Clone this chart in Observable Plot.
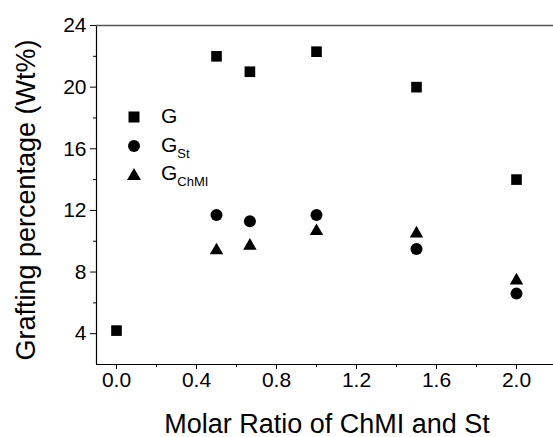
<!DOCTYPE html>
<html>
<head>
<meta charset="utf-8">
<script src="https://cdn.jsdelivr.net/npm/d3@7"></script>
<script src="https://cdn.jsdelivr.net/npm/@observablehq/plot@0.6"></script>
<style>
  body { margin: 0; background: #fff; font-family: "Liberation Sans", Arial, sans-serif; }
  #wrap { position: relative; width: 553px; height: 437px; }
  #legend { position: absolute; left: 126px; top: 103px; font-family: "Liberation Sans", Arial, sans-serif; }
  #legend .row { position: relative; height: 28.5px; display: flex; align-items: center; }
  #legend svg { width: 16px; height: 16px; }
  #legend .lab { position: absolute; left: 35px; font-size: 21px; top: 1px; }
  #legend sub { font-size: 13px; vertical-align: -6px; }
</style>
</head>
<body>
<div id="wrap"><div id="chart"></div>
<div id="legend"></div></div>
<script>
const ratios = [0, 0.5, 0.667, 1.0, 1.5, 2.0];
const gValues = [4.2, 22.0, 21.0, 22.3, 20.0, 14.0];
const gStRatios = [0.5, 0.667, 1.0, 1.5, 2.0];
const gStValues = [11.7, 11.3, 11.7, 9.5, 6.6];
const gChMIRatios = [0.5, 0.667, 1.0, 1.5, 2.0];
const gChMIValues = [9.4, 9.7, 10.65, 10.5, 7.45];
const xTicks = [0, 0.4, 0.8, 1.2, 1.6, 2.0];
const xMinor = [0.2, 0.6, 1.0, 1.4, 1.8];
const yTicks = [4, 8, 12, 16, 20, 24];
const yMinor = [6, 10, 14, 18, 22];
const seriesNames = ["G", "St", "ChMI"];

const G = ratios.map((x, i) => ({x, y: gValues[i]}));
const GSt = gStRatios.map((x, i) => ({x, y: gStValues[i]}));
const GCh = gChMIRatios.map((x, i) => ({x, y: gChMIValues[i]}));

const chart = Plot.plot({
  width: 553,
  height: 437,
  marginLeft: 96,
  marginRight: 0,
  marginTop: 25,
  marginBottom: 73,
  style: {fontFamily: "Liberation Sans, Arial, sans-serif", fontSize: "21px", color: "#000", background: "#fff"},
  x: {domain: [-0.1, 2.185]},
  y: {domain: [2, 24]},
  marks: [
    Plot.axisX({ticks: xTicks, tickFormat: d => d.toFixed(1), tickSize: 5, tickPadding: 3, fontSize: 21,
      label: null}),
    Plot.axisX({ticks: xMinor, tickSize: 3, tickFormat: () => "", label: null}),
    Plot.axisY({ticks: yTicks, tickSize: 6, tickPadding: 4, fontSize: 21, label: null}),
    Plot.axisY({ticks: yMinor, tickSize: 3, tickFormat: () => "", label: null}),
    Plot.text(["Molar Ratio of ChMI and St"], {frameAnchor: "bottom", dx: 2, dy: 68, lineAnchor: "bottom", fontSize: 27, text: d => d}),
    Plot.text(["Grafting percentage (Wt%)"], {frameAnchor: "left", dx: -70, dy: 5, rotate: -90, textAnchor: "middle", lineAnchor: "middle", fontSize: 27, text: d => d}),
    Plot.ruleY([2], {stroke: "#000", strokeWidth: 1.2}),
    Plot.ruleX([-0.1], {stroke: "#000", strokeWidth: 1.2}),
    Plot.ruleY([24], {stroke: "#555", strokeWidth: 1.5}),
    Plot.dot(G, {x: "x", y: "y", symbol: "square", r: 6, fill: "#000", stroke: "none"}),
    Plot.dot(GSt, {x: "x", y: "y", symbol: "circle", r: 6, fill: "#000", stroke: "none"}),
    Plot.dot(GCh, {x: "x", y: "y", symbol: "triangle", r: 5, fill: "#000", stroke: "none"})
  ]
});
document.getElementById("chart").appendChild(chart);

// legend
const legend = document.getElementById("legend");
const syms = [
  '<rect x="2.5" y="2.5" width="11" height="11" fill="#000"/>',
  '<circle cx="8" cy="8" r="6" fill="#000"/>',
  '<path d="M8 2 L15 14 L1 14 Z" fill="#000"/>'
];
seriesNames.forEach((n, i) => {
  const row = document.createElement("div");
  row.className = "row";
  row.innerHTML = '<svg viewBox="0 0 16 16">' + syms[i] + '</svg><span class="lab">G' + (i ? '<sub>' + n + '</sub>' : '') + '</span>';
  legend.appendChild(row);
});
</script>
</body>
</html>
